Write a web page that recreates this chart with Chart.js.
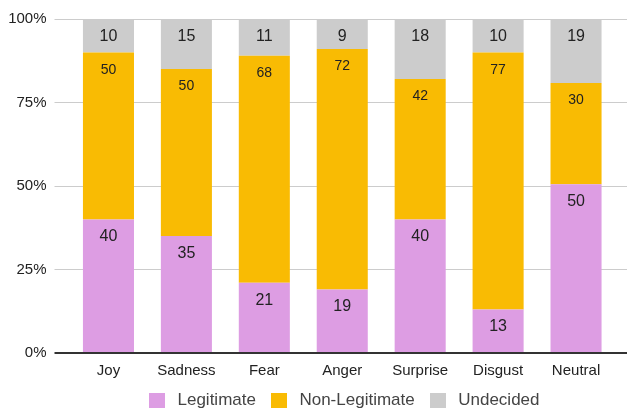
<!DOCTYPE html>
<html>
<head>
<meta charset="utf-8">
<script src="https://cdn.jsdelivr.net/npm/chart.js@4/dist/chart.umd.min.js"></script>
<style>
  html, body { margin: 0; padding: 0; background: #fff; }
  #wrap { width: 627px; height: 408px; }
</style>
</head>
<body>
<div id="wrap"><canvas id="emotionChart" width="627" height="408"></canvas></div>
<script>
const categories = ['Joy', 'Sadness', 'Fear', 'Anger', 'Surprise', 'Disgust', 'Neutral'];
const legitimate = [40, 35, 21, 19, 40, 13, 50];
const nonLegitimate = [50, 50, 68, 72, 42, 77, 30];
const undecided = [10, 15, 11, 9, 18, 10, 19];
const yTicks = [0, 25, 50, 75, 100];

const FONT = "Arial, 'Liberation Sans', sans-serif";
const COLORS = ['#dd9de3', '#f9bb03', '#cccccc'];

// share of each category total (bars are 100% stacked)
const totals = categories.map((_, i) => legitimate[i] + nonLegitimate[i] + undecided[i]);
const pct = arr => arr.map((v, i) => v / totals[i] * 100);

// small square swatch used as the legend marker
function swatch(color) {
  const c = document.createElement('canvas');
  c.width = 16; c.height = 16;
  const g = c.getContext('2d');
  g.fillStyle = color;
  g.fillRect(0, 0, 16, 16);
  return c;
}

// value labels near the top of each segment
const valueLabels = {
  id: 'valueLabels',
  afterDatasetsDraw(chart) {
    const ctx = chart.ctx;
    ctx.save();
    ctx.textAlign = 'center';
    ctx.textBaseline = 'middle';
    ctx.fillStyle = '#222';
    chart.data.datasets.forEach((ds, di) => {
      const meta = chart.getDatasetMeta(di);
      ctx.font = (ds.labelSize || 16) + 'px ' + FONT;
      meta.data.forEach((bar, i) => {
        ctx.fillText(String(ds.raw[i]), bar.x, bar.y + 17.5);
      });
    });
    ctx.restore();
  }
};

// extend horizontal grid lines out to the right edge
const gridTail = {
  id: 'gridTail',
  beforeDatasetsDraw(chart) {
    const ctx = chart.ctx;
    const y = chart.scales.y;
    const area = chart.chartArea;
    ctx.save();
    yTicks.forEach(v => {
      const w = v === 0 ? 2 : 1;
      const py = Math.round(y.getPixelForValue(v) - w / 2) + w / 2;
      ctx.strokeStyle = v === 0 ? '#333' : '#ccc';
      ctx.lineWidth = w;
      ctx.beginPath();
      ctx.moveTo(area.right, py);
      ctx.lineTo(chart.width, py);
      ctx.stroke();
    });
    ctx.restore();
  }
};

new Chart(document.getElementById('emotionChart'), {
  type: 'bar',
  data: {
    labels: categories,
    datasets: [
      { label: 'Legitimate', data: pct(legitimate), raw: legitimate, backgroundColor: COLORS[0], labelSize: 16 },
      { label: 'Non-Legitimate', data: pct(nonLegitimate), raw: nonLegitimate, backgroundColor: COLORS[1], labelSize: 14 },
      { label: 'Undecided', data: pct(undecided), raw: undecided, backgroundColor: COLORS[2], labelSize: 16 }
    ]
  },
  options: {
    responsive: false,
    animation: false,
    devicePixelRatio: 1,
    layout: { padding: { top: 19, right: 12, left: 0, bottom: -11 } },
    datasets: { bar: { categoryPercentage: 1, barPercentage: 0.655 } },
    scales: {
      x: {
        stacked: true,
        grid: { display: false },
        border: { display: false },
        ticks: { color: '#222', font: { family: FONT, size: 15 }, padding: 1 }
      },
      y: {
        stacked: true,
        min: 0,
        max: 100,
        afterBuildTicks: s => { s.ticks = yTicks.map(v => ({ value: v })); },
        afterFit: s => { s.width = 69.5; },
        border: { display: false },
        grid: {
          color: c => c.tick && c.tick.value === 0 ? '#333' : '#ccc',
          lineWidth: c => c.tick && c.tick.value === 0 ? 2 : 1,
          tickLength: 15
        },
        ticks: {
          color: '#222',
          font: { family: FONT, size: 15 },
          padding: 8,
          callback: v => v + '%'
        }
      }
    },
    plugins: {
      legend: {
        position: 'bottom',
        fullSize: false,
        labels: {
          color: '#444',
          font: { family: FONT, size: 17 },
          usePointStyle: true,
          pointStyleWidth: 24,
          boxHeight: 16,
          padding: 11,
          generateLabels: chart => Chart.defaults.plugins.legend.labels.generateLabels(chart)
            .map((item, i) => Object.assign(item, { pointStyle: swatch(COLORS[i]) }))
        }
      },
      tooltip: { enabled: false }
    }
  },
  plugins: [valueLabels, gridTail]
});
</script>
</body>
</html>
